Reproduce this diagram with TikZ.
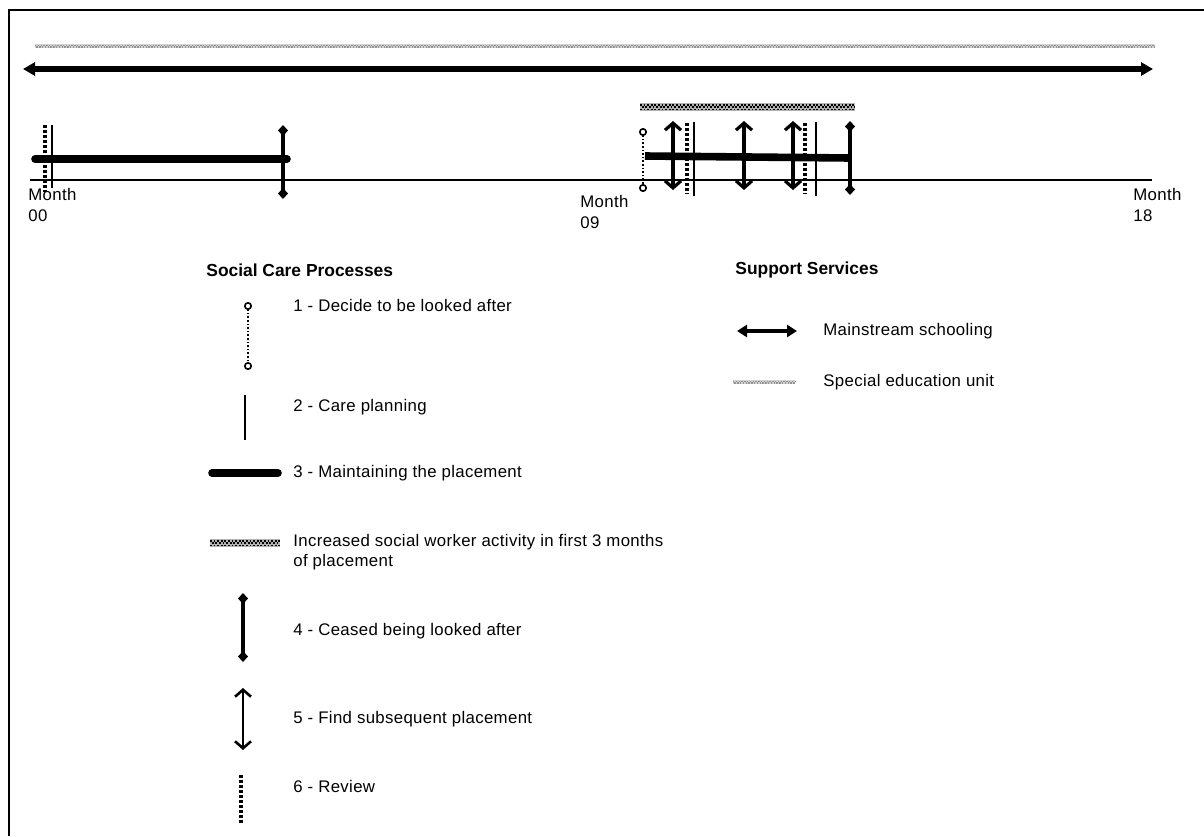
\documentclass[tikz,border=0pt]{standalone}
\usepackage{fontspec}
\setmainfont{Liberation Sans}
\usetikzlibrary{arrows.meta,positioning}

\begin{document}
\begin{tikzpicture}[
    x=0.5pt, y=-0.5pt,
    every node/.style={font=\fontsize{8.4}{10.3}\selectfont\addfontfeatures{LetterSpace=2}, align=left, inner sep=0pt},
    heading/.style={font=\fontsize{8.7}{10}\selectfont\bfseries, anchor=west},
    legtext/.style={anchor=west},
    monthlabel/.style={anchor=north west},
    frameline/.style={line width=1.3pt},
    axis/.style={line width=1.4pt},
    maintain/.style={line width=3.8pt, line cap=round},
    careplan/.style={line width=1.4pt},
    review/.style={line width=2.2pt, dash pattern=on 1.6pt off 0.9pt},
    ceased/.style={line width=1.8pt, {Diamond[length=5.5pt,width=5pt]}-{Diamond[length=5.5pt,width=5pt]}},
    findnext/.style={line width=1.6pt, {Straight Barb[length=3.5pt,width=8pt,line width=1.6pt]}-{Straight Barb[length=3.5pt,width=8pt,line width=1.6pt]}},
    findleg/.style={line width=1.2pt, {Straight Barb[length=3.5pt,width=8pt,line width=1.3pt]}-{Straight Barb[length=3.5pt,width=8pt,line width=1.3pt]}},
    decide/.style={line width=0.8pt, densely dotted, {Circle[open,length=4pt,line width=0.8pt]}-{Circle[open,length=4pt,line width=0.8pt]}},
    swact/.style={draw=none,
        preaction={draw, black!30, line width=3.6pt},
        postaction={draw, black, line width=0.9pt, dash pattern=on 0.9pt off 0.9pt, transform canvas={yshift=1.2pt}},
        postaction={draw, black, line width=0.9pt, dash pattern=on 0.9pt off 0.9pt, dash phase=0.9pt},
        postaction={draw, black, line width=0.9pt, dash pattern=on 0.9pt off 0.9pt, transform canvas={yshift=-1.2pt}}},
    topspan/.style={line width=2.6pt, {Triangle[length=6pt,width=6.5pt]}-{Triangle[length=6pt,width=6.5pt]}},
    mainstream/.style={line width=2pt, {Triangle[length=5pt,width=6pt]}-{Triangle[length=5pt,width=6pt]}},
    special/.style={draw=none,
        preaction={draw, gray!35, line width=1.6pt},
        postaction={draw, gray!85, line width=0.6pt, dash pattern=on 0.7pt off 0.7pt, transform canvas={yshift=0.45pt}},
        postaction={draw, gray!85, line width=0.6pt, dash pattern=on 0.7pt off 0.7pt, dash phase=0.7pt, transform canvas={yshift=-0.45pt}}}
]
\useasboundingbox (0,0) rectangle (1204,836);

% frame (top and left only)
\draw[frameline] (1204,10) -- (9,10) -- (9,836);

% support services across the whole period
\draw[special] (35,46) -- (1155,46);
\draw[topspan] (23,69) -- (1153,69);

% time axis
\draw[axis] (30,180) -- (1152,180);
\node[monthlabel] (m00) at (28,188) {Month\\00};
\node[monthlabel] (m09) at (580,195) {Month\\09};
\node[monthlabel] (m18) at (1133,188) {Month\\18};

% first placement
\draw[maintain] (35,159) -- (287,159);
\draw[review] (45,125) -- (45,192);
\draw[careplan] (52,125) -- (52,188);
\draw[ceased] (283,125) -- (283,199);

% second placement
\draw[swact] (640,107) -- (855,107);
\draw[decide] (643,128) -- (643,192);
\draw[maintain, line cap=butt] (645,156) -- (850,158);
\draw[findnext] (673,121) -- (673,190);
\draw[review] (687,123) -- (687,194);
\draw[careplan] (694,122) -- (694,196);
\draw[findnext] (744,121) -- (744,190);
\draw[findnext] (793,121) -- (793,190);
\draw[review] (805,123) -- (805,194);
\draw[careplan] (816,122) -- (816,196);
\draw[ceased] (850,121) -- (850,195);

% legend: social care processes
\node[heading] (scp) at (206,270) {Social Care Processes};
\node[legtext] (l1) at (293,305) {1 - Decide to be looked after};
\draw[decide] (248,302) -- (248,370);
\node[legtext] (l2) at (293,407) {2 - Care planning};
\draw[careplan] (245,395) -- (245,440);
\node[legtext] (l3) at (293,473) {3 - Maintaining the placement};
\draw[maintain] (212,473) -- (278,473);
\node[legtext] (lsw) at (293,552) {Increased social worker activity in first 3 months\\of placement};
\draw[swact] (210,543) -- (280,543);
\node[legtext] (l4) at (293,631) {4 - Ceased being looked after};
\draw[ceased] (243,593) -- (243,662);
\node[legtext] (l5) at (293,719) {5 - Find subsequent placement};
\draw[findleg] (243,688) -- (243,750);
\node[legtext] (l6) at (293,786) {6 - Review};
\draw[review] (241,775) -- (241,824);

% legend: support services
\node[heading] (sus) at (735,270) {Support Services};
\node[legtext] (lms) at (823,331) {Mainstream schooling};
\draw[mainstream] (737,331) -- (797,331);
\node[legtext] (lsp) at (823,382) {Special education unit};
\draw[special] (733,382) -- (795,382);
\end{tikzpicture}
\end{document}
